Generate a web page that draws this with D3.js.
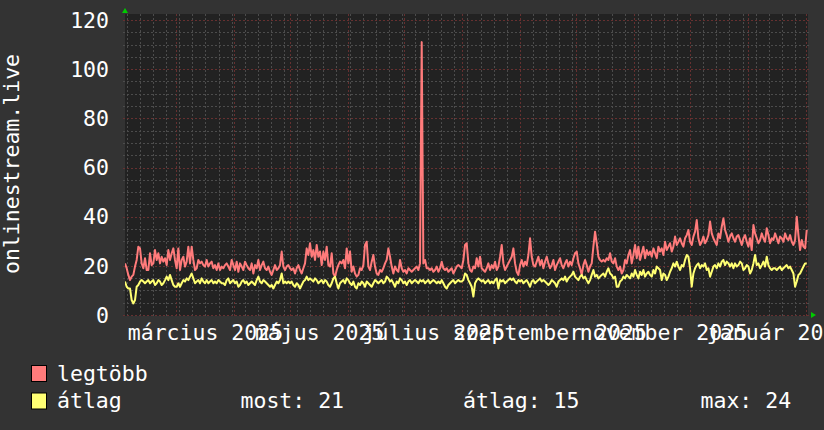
<!DOCTYPE html>
<html>
<head>
<meta charset="utf-8">
<script src="https://cdn.jsdelivr.net/npm/d3@7"></script>
<style>
  body { margin: 0; background: #333333; }
  svg { display: block; }
  text { font-family: "DejaVu Sans Mono", monospace; font-size: 21.5px; fill: #ffffff; }
</style>
</head>
<body>
<div id="chart"></div>
<script>
// values, one sample roughly every 0.9 day
const legtobb = [
  21.0,19.0,16.3,14.2,15.6,16.3,19.7,22.4,27.8,27.1,
  21.0,19.0,23.1,18.3,18.3,25.1,20.3,21.0,26.4,22.4,
  25.1,21.0,23.7,21.7,23.1,20.3,26.4,22.4,25.1,27.1,
  22.4,19.0,27.1,18.3,22.4,23.7,19.7,21.7,27.8,21.0,
  27.8,22.4,18.3,19.0,22.4,21.0,21.7,20.3,19.7,22.4,
  19.7,21.0,21.7,19.0,20.3,18.3,21.0,18.3,19.7,19.0,
  20.3,21.0,19.7,18.3,22.4,20.3,18.3,21.7,17.6,21.0,
  19.7,18.3,21.7,20.3,19.0,18.3,21.0,16.9,20.3,19.0,
  22.4,18.3,20.3,21.7,19.0,18.3,19.7,17.6,16.3,18.3,
  20.3,18.3,19.0,20.3,25.8,19.7,18.3,19.7,20.3,19.0,
  18.3,19.0,16.9,19.0,20.3,18.3,16.9,19.0,21.0,27.1,
  24.4,29.2,23.7,26.4,22.4,28.5,23.7,25.8,20.3,25.8,
  22.4,27.8,20.3,19.7,25.1,16.9,15.6,18.3,20.3,21.7,
  21.0,22.4,19.0,27.1,21.0,25.8,17.6,19.7,16.9,15.6,
  16.3,19.0,18.3,20.3,28.5,29.8,19.7,18.3,21.7,24.4,
  19.7,16.9,16.3,18.3,17.6,19.0,21.0,22.4,27.1,23.7,
  19.7,16.9,19.7,18.3,17.6,22.4,19.0,17.6,18.3,16.9,
  19.0,18.3,17.6,18.3,19.0,19.7,18.3,21.0,111,21.0,
  22.4,19.0,19.0,18.3,19.0,17.6,18.3,19.7,17.6,19.0,
  21.7,19.0,18.3,19.0,17.6,18.3,19.0,16.9,18.3,19.7,
  20.3,19.7,
  19.0,22.4,28.5,29.2,21.0,18.3,17.6,19.7,19.0,23.1,
  19.7,23.7,19.0,18.3,17.6,19.0,21.0,18.3,20.3,19.0,
  21.7,18.3,19.7,23.7,28.5,21.0,18.3,19.7,21.0,22.4,
  23.7,27.1,21.0,17.6,16.3,20.3,22.4,19.7,21.7,20.3,
  24.4,31.2,23.7,20.3,19.7,21.7,23.7,20.3,22.4,19.0,
  21.7,23.7,21.0,19.0,20.3,22.4,18.3,20.3,21.7,23.1,
  20.3,19.0,21.0,22.4,19.7,21.7,20.3,23.1,25.1,25.8,
  21.0,19.0,16.3,20.3,22.4,20.3,17.6,19.7,21.0,27.8,
  33.9,29.2,23.7,22.4,21.7,22.4,21.7,23.1,22.4,25.1,
  21.7,21.0,23.1,19.7,18.3,19.7,16.9,18.3,22.4,21.0,
  24.4,26.4,21.0,24.4,28.5,23.1,27.8,22.4,25.1,27.8,
  23.1,26.4,24.4,25.8,23.7,27.1,25.1,23.1,27.8,25.8,
  27.1,24.4,29.8,26.4,27.8,29.2,25.8,27.8,31.9,28.5,
  29.8,31.2,29.2,27.8,31.2,32.5,34.6,29.8,28.5,31.9,
  33.9,38.6,31.2,28.5,29.8,31.9,29.2,30.5,32.5,38.0,
  33.2,31.2,29.8,28.5,33.2,31.2,35.9,39.3,34.6,32.5,
  29.8,31.9,33.2,31.2,29.8,31.9,32.5,30.5,28.5,31.2,
  32.5,29.8,27.8,31.2,26.4,36.6,33.2,31.2,29.2,30.5,
  33.2,31.2,29.8,35.3,32.5,29.2,31.2,30.5,33.2,31.2,
  29.2,31.9,31.2,29.8,33.2,31.2,30.5,32.5,29.8,28.5,
  30.5,40.0,32.5,26.4,30.5,27.8,27.1,34.6
];

const atlag = [
  13.6,11.5,10.8,10.8,6.1,4.7,6.1,11.5,12.2,13.6,
  14.2,13.6,12.9,13.6,14.2,12.9,13.6,14.2,12.2,12.9,
  14.2,13.6,12.2,12.9,14.2,15.6,14.2,16.3,14.2,12.2,
  11.5,11.5,12.9,11.5,12.9,14.2,13.6,14.9,14.2,15.6,
  16.9,14.9,12.9,13.6,14.2,12.9,14.9,13.6,12.9,14.2,
  12.9,13.6,14.2,12.9,13.6,12.9,14.2,13.6,12.9,12.9,
  12.2,14.2,14.9,12.9,13.6,14.2,12.9,13.6,11.5,12.2,
  13.6,14.2,12.9,13.6,12.2,12.9,13.6,12.9,12.2,14.2,
  15.6,13.6,12.9,14.2,13.6,12.9,12.2,11.5,12.2,10.8,
  12.2,13.6,12.9,14.2,16.9,12.9,13.6,12.9,13.6,12.9,
  13.6,12.2,11.5,12.9,12.2,10.8,12.2,13.6,14.2,15.6,
  14.2,14.9,14.2,13.6,14.9,14.2,12.9,13.6,14.2,12.9,
  14.2,13.6,12.2,11.5,12.9,14.9,15.6,12.9,10.8,12.9,
  13.6,14.2,12.9,14.9,14.2,12.9,12.2,13.6,11.5,10.8,
  12.9,12.2,13.6,12.9,11.5,13.6,12.9,12.2,11.5,12.9,
  14.2,13.6,12.9,13.6,14.2,12.9,13.6,15.6,14.9,13.6,
  14.2,12.9,11.5,13.6,12.9,14.9,14.2,12.9,13.6,12.2,
  13.6,14.2,12.9,13.6,14.2,13.6,12.9,14.2,13.6,14.2,
  12.9,13.6,14.2,12.9,13.6,14.2,13.6,12.9,13.6,12.9,
  14.2,12.9,11.5,10.8,12.2,12.9,13.6,14.2,12.9,13.6,
  14.2,13.6,
  13.6,14.2,16.9,16.3,14.2,12.9,11.5,7.5,12.9,14.2,
  14.9,14.2,13.6,14.2,12.9,13.6,14.2,12.9,13.6,12.9,
  14.2,14.9,10.8,14.2,13.6,14.2,12.9,13.6,14.2,14.9,
  14.2,14.9,13.6,12.9,14.2,13.6,14.2,12.9,13.6,14.2,
  12.9,11.5,13.6,14.2,12.9,13.6,14.2,14.9,13.6,14.2,
  13.6,12.9,12.2,12.9,14.2,13.6,12.9,11.5,13.6,14.2,
  14.9,14.2,15.6,13.6,14.9,15.6,16.3,17.6,15.6,14.9,
  14.2,15.6,16.3,14.9,15.6,14.2,12.9,14.2,16.3,18.3,
  15.6,16.3,14.9,15.6,16.3,16.9,15.6,17.6,19.0,16.9,
  16.3,14.9,15.6,11.5,11.5,13.6,14.2,15.6,14.9,16.3,
  15.6,14.9,16.9,15.6,18.3,16.3,14.9,17.6,16.3,18.3,
  15.6,16.9,17.6,16.3,15.6,18.3,16.9,19.7,19.0,18.3,
  14.2,16.9,16.3,14.2,15.6,17.6,19.0,21.0,19.7,21.7,
  19.7,18.3,20.3,19.7,22.4,24.4,23.7,19.0,11.5,16.9,
  19.0,20.3,21.0,19.0,20.3,19.7,21.0,18.3,19.0,15.6,
  17.6,19.7,20.3,19.0,21.0,19.7,21.7,22.4,20.3,21.7,
  21.0,19.7,21.0,19.0,21.0,19.7,20.3,21.7,21.0,18.3,
  19.0,20.3,19.7,16.9,18.3,21.0,24.4,20.3,21.0,19.0,
  20.3,21.7,19.7,23.7,20.3,19.0,18.3,19.0,19.0,18.3,
  19.0,19.7,18.3,19.0,19.7,20.3,19.0,19.7,18.3,16.9,
  11.5,13.6,16.3,16.9,18.3,19.7,21.0,21.0
];

const seriesNames = ["legtöbb", "átlag"];
const seriesColors = ["#ff7b7b", "#ffff73"];
const yTicks = [0, 20, 40, 60, 80, 100, 120];
const yTitle = "onlinestream.live";
const huMonths = ["január", "február", "március", "április", "május", "június",
  "július", "augusztus", "szeptember", "október", "november", "december"];

function rrdGraph() {
  const width = 824;
  const height = 430;
  const plot = ({left: 125, right: 808, top: 14, bottom: 315});

  const start = new Date(2025, 1, 2);
  const end = new Date(2026, 1, 2);
  const firstSample = new Date(2025, 1, 2);
  const lastSample = new Date(2026, 1, 1, 8);

  const x = d3.scaleTime()
    .domain([start, end])
    .range([plot.left, plot.right]);

  const y = d3.scaleLinear()
    .domain([0, 120])
    .range([plot.bottom, 20]);

  // sample index -> screen x, tied to the time axis
  const xi = d3.scaleLinear()
    .domain([0, legtobb.length - 1])
    .range([x(firstSample), x(lastSample)]);

  const hu = d3.timeFormatLocale({
    dateTime: "%Y. %B %-e. %H:%M:%S", date: "%Y.%m.%d.", time: "%H:%M:%S",
    periods: ["de.", "du."],
    days: ["vasárnap", "hétfő", "kedd", "szerda", "csütörtök", "péntek", "szombat"],
    shortDays: ["V", "H", "K", "Sze", "Cs", "P", "Szo"],
    months: huMonths,
    shortMonths: ["jan.", "feb.", "már.", "ápr.", "máj.", "jún.", "júl.", "aug.", "szept.", "okt.", "nov.", "dec."]
  });
  const monthLabel = hu.format("%B %Y");

  const svg = d3.select("#chart")
    .append("svg")
    .attr("width", width)
    .attr("height", height);

  svg.append("rect")
    .attr("width", width)
    .attr("height", height)
    .attr("fill", "#333333");

  // plot background
  svg.append("rect")
    .attr("x", plot.left)
    .attr("y", plot.top)
    .attr("width", plot.right - plot.left)
    .attr("height", plot.bottom - plot.top + 1)
    .attr("fill", "#222222");

  const grid = svg.append("g")
    .attr("shape-rendering", "crispEdges");

  const minorColor = "#4c4c4c";
  const majorColor = "#663030";
  const dash = "1.5,2.5";

  // minor grid: weekly and every 5
  const minorY = d3.range(5, 125, 5).filter(v => v % 20 !== 0);
  grid.selectAll("line.minor-y")
    .data(minorY)
    .join("line")
      .attr("x1", plot.left - 2)
      .attr("x2", plot.right + 1)
      .attr("y1", d => Math.round(y(d)) + 0.5)
      .attr("y2", d => Math.round(y(d)) + 0.5)
      .attr("stroke", minorColor)
      .attr("stroke-dasharray", dash);

  grid.selectAll("line.minor-x")
    .data(d3.timeMonday.range(start, end))
    .join("line")
      .attr("x1", d => Math.round(x(d)) + 0.5)
      .attr("x2", d => Math.round(x(d)) + 0.5)
      .attr("y1", plot.top)
      .attr("y2", plot.bottom + 3)
      .attr("stroke", minorColor)
      .attr("stroke-dasharray", dash);

  // major grid: months and every 20
  grid.selectAll("line.major-y")
    .data(yTicks)
    .join("line")
      .attr("x1", plot.left - 2)
      .attr("x2", plot.right + 2)
      .attr("y1", d => Math.round(y(d)) + 0.5)
      .attr("y2", d => Math.round(y(d)) + 0.5)
      .attr("stroke", majorColor)
      .attr("stroke-dasharray", dash);

  grid.selectAll("line.major-x")
    .data(d3.timeMonth.range(start, end))
    .join("line")
      .attr("x1", d => Math.round(x(d)) + 0.5)
      .attr("x2", d => Math.round(x(d)) + 0.5)
      .attr("y1", plot.top)
      .attr("y2", plot.bottom + 3)
      .attr("stroke", majorColor)
      .attr("stroke-dasharray", dash);

  // axis arrows
  svg.append("path")
    .attr("d", `M${plot.left - 3},13 L${plot.left + 3},13 L${plot.left},8 Z`)
    .attr("fill", "#00cc00");
  svg.append("path")
    .attr("d", `M${plot.right + 3},${plot.bottom - 3} L${plot.right + 3},${plot.bottom + 3} L${plot.right + 8},${plot.bottom} Z`)
    .attr("fill", "#00cc00");

  // y labels
  svg.append("g")
    .selectAll("text")
    .data(yTicks)
    .join("text")
      .attr("x", 109)
      .attr("y", d => y(d) + 7.8)
      .attr("text-anchor", "end")
      .text(d => d);

  // x labels, centred about half a month after the month start (rrdtool style)
  const labelMonths = d3.timeMonth.every(2).range(start, end);
  svg.append("g")
    .selectAll("text")
    .data(labelMonths)
    .join("text")
      .attr("x", d => x(d3.timeHour.offset(d, 16 * 24)))
      .attr("y", 339.5)
      .attr("text-anchor", "middle")
      .text(d => monthLabel(d));

  // vertical title
  svg.append("text")
    .attr("transform", `translate(18.5, 164) rotate(-90)`)
    .attr("text-anchor", "middle")
    .text(yTitle);

  // lines
  svg.append("clipPath")
    .attr("id", "clip")
    .append("rect")
      .attr("x", plot.left)
      .attr("y", plot.top)
      .attr("width", plot.right - plot.left)
      .attr("height", plot.bottom - plot.top + 1);

  const line = d3.line()
    .x((d, i) => xi(i))
    .y(d => y(d));

  const lines = svg.append("g").attr("clip-path", "url(#clip)");
  [legtobb, atlag].forEach((series, i) => {
    lines.append("path")
      .datum(series)
      .attr("fill", "none")
      .attr("stroke", seriesColors[i])
      .attr("stroke-width", 2)
      .attr("stroke-linejoin", "round")
      .attr("d", line);
  });

  // legend
  const legendRows = [380.5, 408];
  const legend = svg.append("g");
  seriesNames.forEach((name, i) => {
    legend.append("rect")
      .attr("x", 31.5)
      .attr("y", legendRows[i] - 15)
      .attr("width", 15)
      .attr("height", 16)
      .attr("fill", seriesColors[i])
      .attr("stroke", "#000000");
    legend.append("text")
      .attr("x", 57)
      .attr("y", legendRows[i])
      .text(name);
  });

  const fmt = d3.format(".0f");
  const stats = [
    {x: 240.5, text: `most: ${fmt(atlag[atlag.length - 1])}`},
    {x: 463, text: `átlag: ${fmt(d3.mean(atlag))}`},
    {x: 700.5, text: `max: ${fmt(d3.max(atlag))}`}
  ];
  legend.selectAll("text.stat")
    .data(stats)
    .join("text")
      .attr("class", "stat")
      .attr("x", d => d.x)
      .attr("y", legendRows[1])
      .text(d => d.text);
}

window.onload = rrdGraph;
</script>
</body>
</html>
